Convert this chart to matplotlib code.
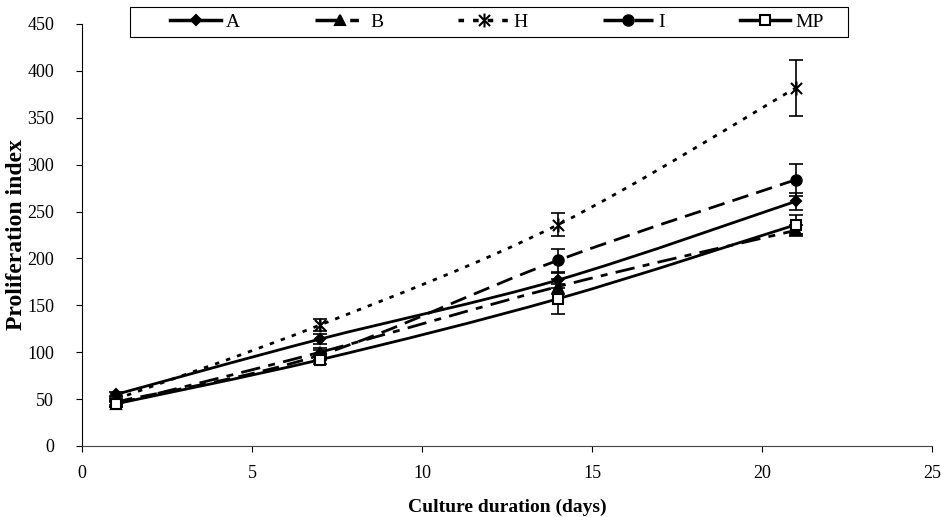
import numpy as np
import matplotlib
matplotlib.use("Agg")
import matplotlib.pyplot as plt
from matplotlib.path import Path
from matplotlib.patches import PathPatch, Rectangle
from matplotlib.lines import Line2D

days = [1, 7, 14, 21]
series_names = ["A", "B", "H", "I", "MP"]
A_vals = [55, 114, 177, 261]
B_vals = [45, 100, 170, 230]
H_vals = [50, 129, 236, 382]
I_vals = [47, 97, 198, 284]
MP_vals = [45, 92, 157, 236]
A_err = [3, 5, 8, 9]
B_err = [3, 5, 8, 6]
H_err = [3, 6, 12, 30]
I_err = [3, 5, 12, 17]
MP_err = [3, 5, 16, 10]
x_ticks = [0, 5, 10, 15, 20, 25]
y_ticks = [0, 50, 100, 150, 200, 250, 300, 350, 400, 450]

plt.rcParams['font.family'] = ['Liberation Serif', 'DejaVu Serif']

fig = plt.figure(figsize=(9.41, 5.17), dpi=100)
ax = fig.add_axes([82/941, 1-446/517, 850/941, 422/517])

star = Path([(-1, -1), (1, 1), (-1, 1), (1, -1), (0, -1.25), (0, 1.25)],
            [Path.MOVETO, Path.LINETO, Path.MOVETO, Path.LINETO, Path.MOVETO, Path.LINETO])

styles = {
    "A": dict(marker='D', ms=5.5, mfc='black', dashes=None),
    "B": dict(marker='^', ms=7, mfc='black', dashes=(7, 3, 2.5, 3)),
    "H": dict(marker=star, ms=10, mfc='none', dashes=(1.6, 2.6)),
    "I": dict(marker='o', ms=7.5, mfc='black', dashes=(6, 3)),
    "MP": dict(marker='s', ms=6.5, mfc='white', dashes=None),
}
data = {"A": (A_vals, A_err), "B": (B_vals, B_err), "H": (H_vals, H_err),
        "I": (I_vals, I_err), "MP": (MP_vals, MP_err)}


def smooth_path(xs, ys):
    pts = np.column_stack([xs, ys]).astype(float)
    n = len(pts)
    verts = [pts[0]]
    codes = [Path.MOVETO]
    for i in range(n - 1):
        p0 = pts[i - 1] if i > 0 else pts[i]
        p1 = pts[i]
        p2 = pts[i + 1]
        p3 = pts[i + 2] if i + 2 < n else pts[i + 1]
        c1 = p1 + (p2 - p0) / 6.0
        c2 = p2 - (p3 - p1) / 6.0
        verts += [c1, c2, p2]
        codes += [Path.CURVE4] * 3
    return Path(verts, codes)


handles = []
for name in series_names:
    vals, err = data[name]
    st = styles[name]
    patch = PathPatch(smooth_path(days, vals), fill=False, edgecolor='black', lw=2.0,
                      capstyle='butt', joinstyle='round')
    if st['dashes'] is not None:
        patch.set_linestyle((0, st['dashes']))
    ax.add_patch(patch)
    ax.errorbar(days, vals, yerr=err, fmt='none', ecolor='black', elinewidth=1.2,
                capsize=5, capthick=1.2, zorder=3)
    ax.plot(days, vals, ls='none', marker=st['marker'], ms=st['ms'], mfc=st['mfc'],
            mec='black', mew=1.5, color='black', zorder=4)
    h = Line2D([], [], color='black', lw=2.5, marker=st['marker'], ms=st['ms'],
               mfc=st['mfc'], mec='black', mew=1.5)
    if st['dashes'] is not None:
        h.set_dashes(st['dashes'])
    handles.append(h)

ax.set_xlim(0, 25)
ax.set_ylim(0, 450)
ax.set_xticks(x_ticks)
ax.set_yticks(y_ticks)
ax.tick_params(axis='both', direction='out', length=4, width=0.8, labelsize=13)
ax.tick_params(axis='y', pad=16)
ax.tick_params(axis='x', pad=10)
for s in ['top', 'right']:
    ax.spines[s].set_visible(False)
ax.spines['left'].set_linewidth(0.8)
ax.spines['bottom'].set_linewidth(0.8)
ax.spines['bottom'].set_color('#444444')

ax.set_xlabel("Culture duration (days)", fontsize=14, fontweight='bold', labelpad=12)
ax.set_ylabel("Proliferation index", fontsize=17, fontweight='bold', labelpad=0)

# legend frame
fig.patches.append(Rectangle((130/941, 1-37/517), 718/941, 30/517, transform=fig.transFigure,
                             fill=False, edgecolor='black', lw=0.8))
leg = fig.legend(handles, series_names, loc='center', ncol=5,
                 bbox_to_anchor=(497/941, 1-22/517),
                 frameon=False, handlelength=2.6, handletextpad=0.25,
                 columnspacing=3.85, borderaxespad=0, borderpad=0,
                 prop=dict(size=14))

fig.savefig("out.png", dpi=100)
